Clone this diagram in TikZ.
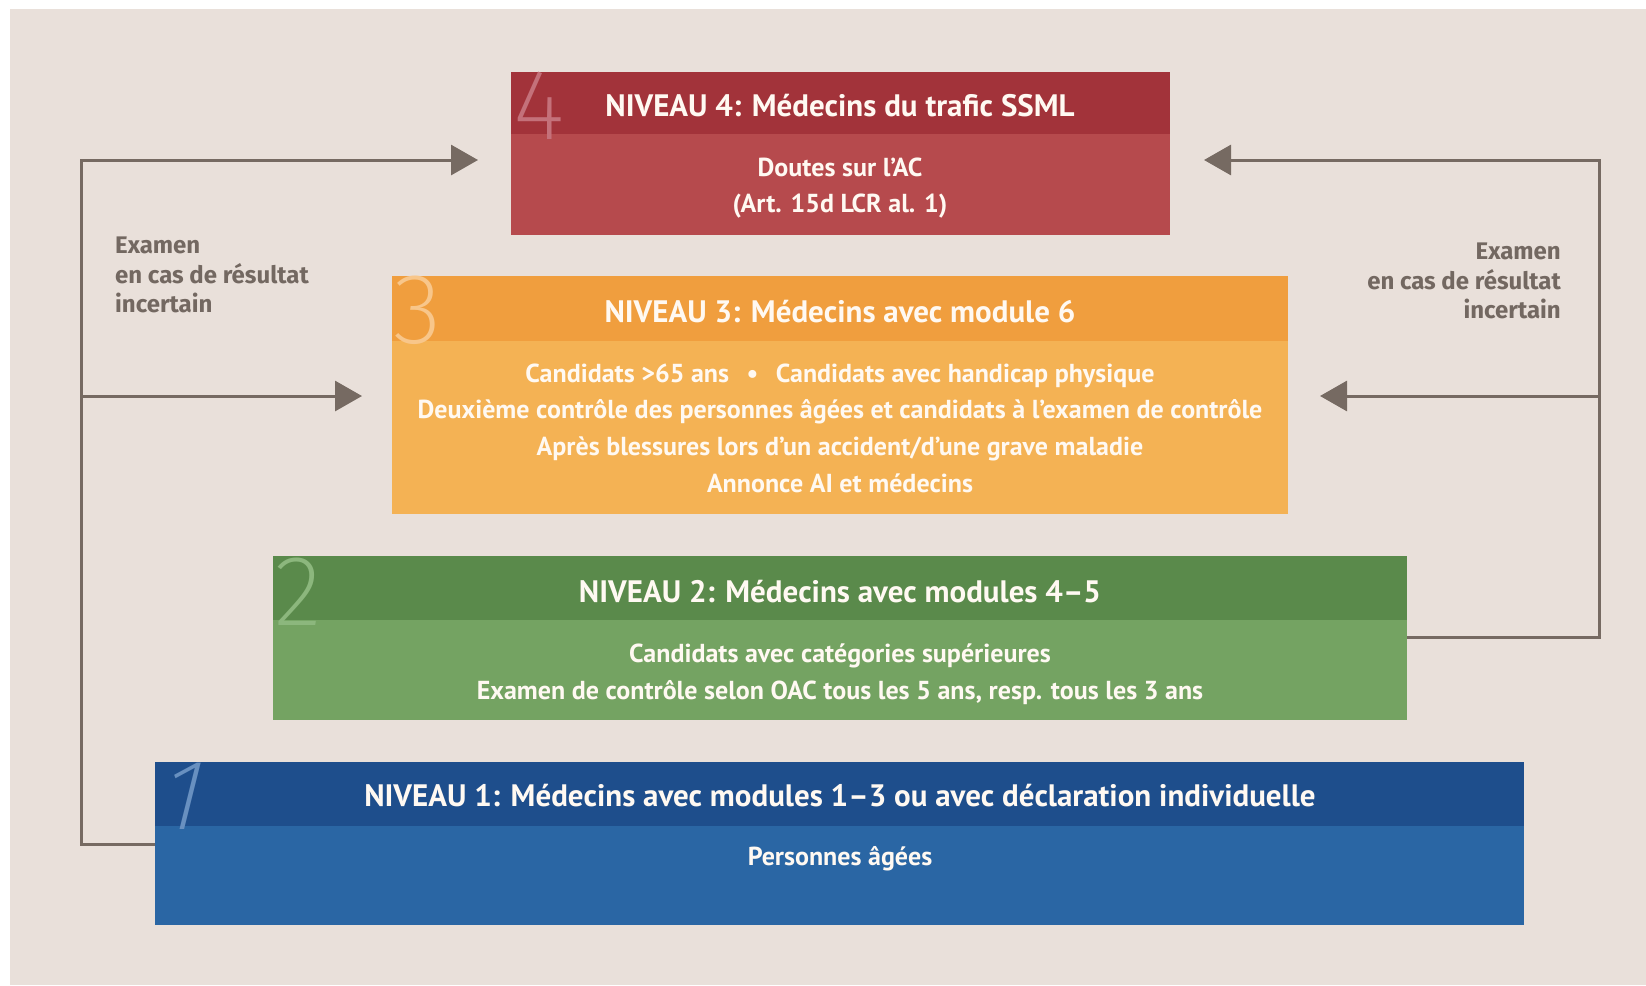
\documentclass[tikz,border=0pt]{standalone}
\usepackage{fontspec}
\usetikzlibrary{arrows.meta}
\newfontfamily\boxfont{PT Sans}
\newfontfamily\lblfont{Fira Sans}
\IfFontExistsTF{Fira Sans ExtraLight}{\newfontfamily\numfont{Fira Sans ExtraLight}}{%
 \IfFontExistsTF{Fira Sans Light}{\newfontfamily\numfont{Fira Sans Light}}{%
  \IfFontExistsTF{Lato Light}{\newfontfamily\numfont{Lato Light}}{%
   \IfFontExistsTF{Open Sans Light}{\newfontfamily\numfont{Open Sans Light}}{%
    \newfontfamily\numfont[FakeStretch=0.8]{Fira Sans}}}}}
\definecolor{bg}{HTML}{E9E0DA}
\definecolor{conncol}{HTML}{766A62}
\definecolor{lblcol}{HTML}{736861}
\definecolor{redh}{HTML}{A2333A}
\definecolor{redb}{HTML}{B64A4D}
\definecolor{redn}{HTML}{C4717A}
\definecolor{orah}{HTML}{F09E3E}
\definecolor{orab}{HTML}{F4B254}
\definecolor{oran}{HTML}{F8C68A}
\definecolor{greh}{HTML}{5A8A4B}
\definecolor{greb}{HTML}{74A362}
\definecolor{gren}{HTML}{8CB77D}
\definecolor{bluh}{HTML}{1E4E8C}
\definecolor{blub}{HTML}{2A66A4}
\definecolor{blun}{HTML}{6890C0}
\definecolor{boxtext}{HTML}{FFF9F2}
\begin{document}
\begin{tikzpicture}[x=1pt,y=-1pt,
  boxpart/.style={anchor=north west, inner sep=0pt, draw=none},
  ttl/.style={inner sep=0pt, text=boxtext, font=\boxfont\bfseries\fontsize{31}{36}\selectfont},
  bdy/.style={inner sep=0pt, text=boxtext, align=center, font=\boxfont\bfseries\fontsize{26}{36.6}\selectfont},
  num/.style={anchor=north west, inner sep=0pt, font=\numfont\fontsize{100}{100}\selectfont},
  lbl/.style={inner sep=0pt, text=lblcol, font=\lblfont\bfseries\fontsize{24}{29.5}\selectfont},
  conn/.style={draw=conncol, line width=3pt},
  arr/.style={conn, -{Triangle[length=27pt,width=30pt]}}]
\useasboundingbox (0,0) rectangle (1646,985);
\fill[white] (0,0) rectangle (1646,985);
\fill[bg] (10,9) rectangle (1646,985);
% Level 4
\node[boxpart, fill=redh, minimum width=659pt, minimum height=62pt] (l4h) at (511,72) {};
\node[boxpart, fill=redb, minimum width=659pt, minimum height=101pt] (l4b) at (511,134) {};
\node[num, text=redn] (n4) at (513,72) {4};
\node[ttl] (t4) at (840,106) {NIVEAU 4: Médecins du trafic SSML};
\node[bdy] (b4) at (840,188) {Doutes sur l’AC\\(Art. 15d LCR al. 1)};
% Level 3
\node[boxpart, fill=orah, minimum width=896pt, minimum height=65pt] (l3h) at (392,276) {};
\node[boxpart, fill=orab, minimum width=896pt, minimum height=173pt] (l3b) at (392,341) {};
\node[num, text=oran] (n3) at (393,276) {3};
\node[ttl] (t3) at (840,312) {NIVEAU 3: Médecins avec module 6};
\node[bdy] (b3) at (840,428) {Candidats >65 ans \ \,•\ \, Candidats avec handicap physique\\Deuxième contrôle des personnes âgées et candidats à l’examen de contrôle\\Après blessures lors d’un accident/d’une grave maladie\\Annonce AI et médecins};
% Level 2
\node[boxpart, fill=greh, minimum width=1134pt, minimum height=64pt] (l2h) at (273,556) {};
\node[boxpart, fill=greb, minimum width=1134pt, minimum height=100pt] (l2b) at (273,620) {};
\node[num, text=gren] (n2) at (274,558) {2};
\node[ttl] (t2) at (840,592) {NIVEAU 2: Médecins avec modules 4–5};
\node[bdy] (b2) at (840,674) {Candidats avec catégories supérieures\\Examen de contrôle selon OAC tous les 5 ans, resp. tous les 3 ans};
% Level 1
\node[boxpart, fill=bluh, minimum width=1369pt, minimum height=64pt] (l1h) at (155,762) {};
\node[boxpart, fill=blub, minimum width=1369pt, minimum height=99pt] (l1b) at (155,826) {};
\node[num, text=blun] (n1) at (156,763) {\addfontfeatures{FakeSlant=0.25}1};
\node[ttl] (t1) at (840,796) {NIVEAU 1: Médecins avec modules 1–3 ou avec déclaration individuelle};
\node[bdy] (b1) at (840,859) {Personnes âgées};
% connector coordinates
\coordinate (L1) at (81,844);
\coordinate (L3) at (81,396);
\coordinate (L4) at (81,160);
\coordinate (a4l) at (478,160);
\coordinate (a3l) at (362,396);
\coordinate (R2) at (1599,637);
\coordinate (R3) at (1599,396);
\coordinate (R4) at (1599,160);
\coordinate (a4r) at (1204,160);
\coordinate (a3r) at (1320,396);
\draw[arr] ([yshift=-18pt]l1b.north west) -- (L1) -- (L4) -- (a4l);
\draw[arr] (L3) -- (a3l);
\draw[arr] ([yshift=-17pt]l2b.north east) -- (R2) -- (R4) -- (a4r);
\draw[arr] (R3) -- (a3r);
% labels
\node[lbl, anchor=west, align=left] (lblL) at (115,275) {Examen\\en cas de résultat\\incertain};
\node[lbl, anchor=east, align=right] (lblR) at (1561,281) {Examen\\en cas de résultat\\incertain};
\end{tikzpicture}
\end{document}
